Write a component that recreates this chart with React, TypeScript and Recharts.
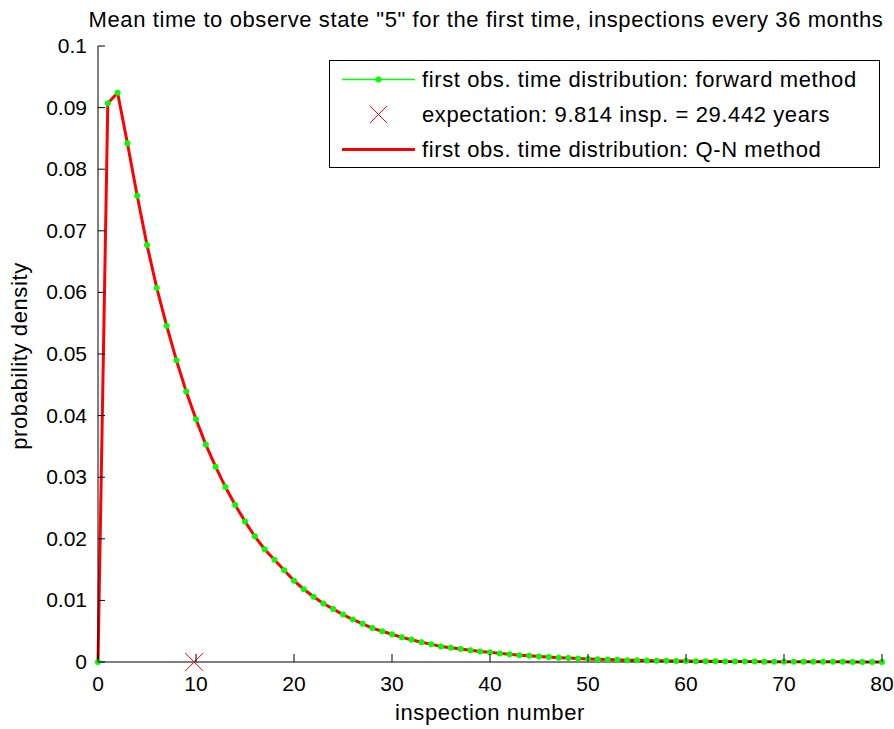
import { ComposedChart, Line, Scatter, XAxis, YAxis } from 'recharts';

// inspection numbers (x) and the two density curves
const inspections = [
  0, 1, 2, 3, 4, 5, 6, 7, 8, 9, 10, 11, 12, 13, 14, 15, 16, 17, 18, 19, 20,
  21, 22, 23, 24, 25, 26, 27, 28, 29, 30, 31, 32, 33, 34, 35, 36, 37, 38, 39, 40,
  41, 42, 43, 44, 45, 46, 47, 48, 49, 50, 51, 52, 53, 54, 55, 56, 57, 58, 59, 60,
  61, 62, 63, 64, 65, 66, 67, 68, 69, 70, 71, 72, 73, 74, 75, 76, 77, 78, 79, 80,
];

const forwardDensity = [
  0, 0.0907, 0.0924, 0.0842, 0.0757, 0.0677, 0.0607, 0.0546, 0.049, 0.0439, 0.0394,
  0.0353, 0.0317, 0.0284, 0.0255, 0.0228, 0.0204, 0.0183, 0.0166, 0.0149, 0.0132,
  0.0118, 0.0106, 0.0095, 0.0086, 0.0077, 0.0069, 0.0062, 0.0055, 0.005, 0.0045,
  0.004, 0.0036, 0.0032, 0.0029, 0.0025, 0.0023, 0.0021, 0.0019, 0.0017, 0.0016,
  0.0014, 0.00125, 0.0011, 0.001, 0.0009, 0.0008, 0.0007, 0.00063, 0.00056, 0.0005,
  0.00045, 0.0004, 0.00035, 0.0003, 0.00027, 0.00024, 0.00021, 0.00019, 0.00017, 0.00015,
  0.00013, 0.00012, 0.00011, 0.0001, 0.00009, 0.00008, 0.00007, 0.00006, 0.00006, 0.00005,
  0.00005, 0.00004, 0.00004, 0.00003, 0.00003, 0.00003, 0.00002, 0.00002, 0.00002, 0.00002,
];

const qnDensity = [
  0, 0.0907, 0.0924, 0.0842, 0.0757, 0.0677, 0.0607, 0.0546, 0.049, 0.0439, 0.0394,
  0.0353, 0.0317, 0.0284, 0.0255, 0.0228, 0.0204, 0.0183, 0.0166, 0.0149, 0.0132,
  0.0118, 0.0106, 0.0095, 0.0086, 0.0077, 0.0069, 0.0062, 0.0055, 0.005, 0.0045,
  0.004, 0.0036, 0.0032, 0.0029, 0.0025, 0.0023, 0.0021, 0.0019, 0.0017, 0.0016,
  0.0014, 0.00125, 0.0011, 0.001, 0.0009, 0.0008, 0.0007, 0.00063, 0.00056, 0.0005,
  0.00045, 0.0004, 0.00035, 0.0003, 0.00027, 0.00024, 0.00021, 0.00019, 0.00017, 0.00015,
  0.00013, 0.00012, 0.00011, 0.0001, 0.00009, 0.00008, 0.00007, 0.00006, 0.00006, 0.00005,
  0.00005, 0.00004, 0.00004, 0.00003, 0.00003, 0.00003, 0.00002, 0.00002, 0.00002, 0.00002,
];

const expectationPoint = [{ n: 9.814, v: 0 }];

const xTicks = [0, 10, 20, 30, 40, 50, 60, 70, 80];
const yTicks = [0, 0.01, 0.02, 0.03, 0.04, 0.05, 0.06, 0.07, 0.08, 0.09, 0.1];

const legendLabels = [
  'first obs. time distribution: forward method',
  'expectation: 9.814 insp. = 29.442 years',
  'first obs. time distribution: Q-N method',
];

const FONT = '"Liberation Sans", Arial, sans-serif';

const chartData = inspections.map((n, i) => ({ n, forward: forwardDensity[i], qn: qnDensity[i] }));

const fmtY = (v: number) => String(Number(v.toFixed(2)));

const BottomTick = (props: any) => {
  const { x, y, payload } = props;
  return (
    <g>
      <line x1={x} y1={y} x2={x} y2={y - 8} stroke="#000" />
      <text x={x} y={y + 29} textAnchor="middle" fontSize={21} fontFamily={FONT} fill="#000">
        {payload.value}
      </text>
    </g>
  );
};

const LeftTick = (props: any) => {
  const { x, y, payload } = props;
  return (
    <g>
      <line x1={x} y1={y} x2={x + 7} y2={y} stroke="#000" />
      <text x={x - 11} y={y + 7} textAnchor="end" fontSize={21} fontFamily={FONT} fill="#000">
        {fmtY(payload.value)}
      </text>
    </g>
  );
};

const TopTick = (props: any) => {
  const { x, y } = props;
  return <line x1={x} y1={y} x2={x} y2={y + 8} stroke="#000" />;
};

const RightTick = (props: any) => {
  const { x, y } = props;
  return <line x1={x} y1={y} x2={x - 7} y2={y} stroke="#000" />;
};

const GreenDot = (props: any) => (
  <circle key={`dot-${props.index}`} cx={props.cx} cy={props.cy} r={3} fill="#00ff00" />
);

const RedCross = (props: any) => {
  const { cx, cy } = props;
  return (
    <g>
      <line x1={cx - 9} y1={cy - 9} x2={cx + 9} y2={cy + 9} stroke="#ff0000" />
      <line x1={cx - 9} y1={cy + 9} x2={cx + 9} y2={cy - 9} stroke="#ff0000" />
    </g>
  );
};

const textStyle = { fontFamily: FONT, fontSize: 22, letterSpacing: 0.6, color: '#000' };

export default function App() {
  return (
    <div style={{ position: 'relative', width: 894, height: 729 }}>
      {/* drop the default body margin so the figure uses the whole window */}
      <style>{'body { margin: 0; }'}</style>

      {/* title */}
      <div
        style={{
          ...textStyle,
          position: 'absolute',
          left: 0,
          top: 9,
          width: 972,
          textAlign: 'center',
          lineHeight: '22px',
          whiteSpace: 'nowrap',
        }}
      >
        Mean time to observe state "5" for the first time, inspections every 36 months
      </div>

      <ComposedChart
        width={894}
        height={729}
        data={chartData}
        margin={{ top: 46, right: 12, bottom: 0, left: 0 }}
      >
        <XAxis
          dataKey="n"
          type="number"
          domain={[0, 80]}
          ticks={xTicks}
          height={67}
          tickSize={0}
          tickMargin={0}
          tickLine={false}
          axisLine={{ stroke: '#000' }}
          tick={(p: any) => <BottomTick {...p} />}
          label={{
            content: () => (
              <text x={490} y={720} textAnchor="middle" fontSize={22} letterSpacing={0.6} fontFamily={FONT} fill="#000">
                inspection number
              </text>
            ),
          }}
        />
        <XAxis
          xAxisId="top"
          orientation="top"
          dataKey="n"
          type="number"
          domain={[0, 80]}
          ticks={xTicks}
          height={0}
          tickSize={0}
          tickMargin={0}
          tickLine={false}
          axisLine={{ stroke: '#000' }}
          tick={(p: any) => <TopTick {...p} />}
        />
        <YAxis
          type="number"
          domain={[0, 0.1]}
          ticks={yTicks}
          width={98}
          tickSize={0}
          tickMargin={0}
          tickLine={false}
          axisLine={{ stroke: '#000' }}
          tick={(p: any) => <LeftTick {...p} />}
          label={{
            content: () => (
              <text
                x={0}
                y={0}
                transform="translate(27 356) rotate(-90)"
                textAnchor="middle"
                fontSize={22}
                letterSpacing={0.6}
                fontFamily={FONT}
                fill="#000"
              >
                probability density
              </text>
            ),
          }}
        />
        <YAxis
          yAxisId="right"
          orientation="right"
          type="number"
          domain={[0, 0.1]}
          ticks={yTicks}
          width={0}
          tickSize={0}
          tickMargin={0}
          tickLine={false}
          axisLine={{ stroke: '#000' }}
          tick={(p: any) => <RightTick {...p} />}
        />

        <Line
          type="linear"
          dataKey="forward"
          stroke="#00ff00"
          strokeWidth={1}
          dot={GreenDot}
          activeDot={false}
          isAnimationActive={false}
        />
        <Scatter data={expectationPoint} dataKey="v" shape={RedCross} isAnimationActive={false} />
        <Line
          type="linear"
          dataKey="qn"
          stroke="#ff0000"
          strokeWidth={3}
          dot={false}
          activeDot={false}
          isAnimationActive={false}
        />
      </ComposedChart>

      {/* legend box */}
      <div
        style={{
          position: 'absolute',
          left: 329,
          top: 60,
          width: 551,
          height: 108,
          boxSizing: 'border-box',
          border: '1px solid #000',
          background: '#fff',
          paddingTop: 1,
        }}
      >
        {legendLabels.map((label, i) => (
          <div key={label} style={{ display: 'flex', alignItems: 'center', height: 35 }}>
            <svg width={92} height={35} style={{ flex: 'none' }}>
              {i === 0 && (
                <g>
                  <line x1={12} y1={17.5} x2={85} y2={17.5} stroke="#00ff00" strokeWidth={1.5} />
                  <circle cx={48.5} cy={17.5} r={3} fill="#00ff00" />
                </g>
              )}
              {i === 1 && (
                <g>
                  <line x1={40} y1={9} x2={57} y2={26} stroke="#ff0000" />
                  <line x1={40} y1={26} x2={57} y2={9} stroke="#ff0000" />
                </g>
              )}
              {i === 2 && <line x1={12} y1={17.5} x2={85} y2={17.5} stroke="#ff0000" strokeWidth={3} />}
            </svg>
            <span style={{ ...textStyle, whiteSpace: 'nowrap', lineHeight: '22px' }}>{label}</span>
          </div>
        ))}
      </div>
    </div>
  );
}
